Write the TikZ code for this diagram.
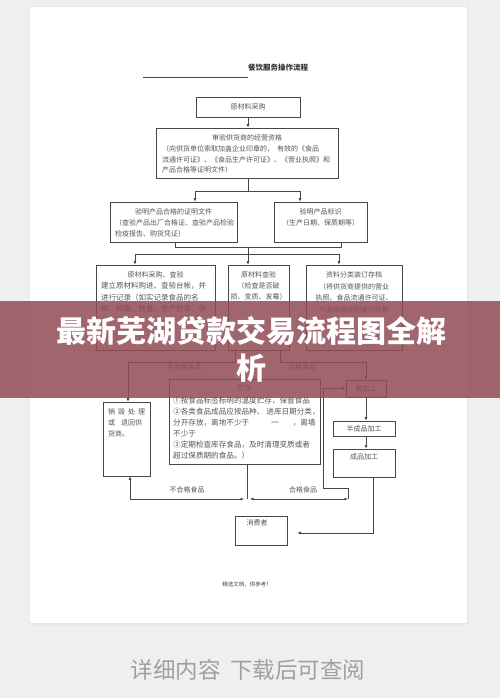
\documentclass[tikz,border=0pt]{standalone}
\usepackage{fontspec}
\newfontfamily\cjk{Noto Sans CJK SC}
\usetikzlibrary{arrows.meta}
\definecolor{ink}{RGB}{70,70,70}
\definecolor{txtc}{RGB}{85,85,85}
\definecolor{bg}{RGB}{239,239,239}
\definecolor{band}{RGB}{145,75,85}
\definecolor{dlc}{RGB}{160,160,160}
\begin{document}
\begin{tikzpicture}[x=1pt,y=-1pt,
  box/.style={draw=ink, line width=0.6pt, inner sep=0pt},
  txt/.style={text=txtc, font=\cjk\fontsize{7}{11}\selectfont, inner sep=0pt},
  ln/.style={draw=ink, line width=0.6pt},
  arr/.style={ln, -{Latex[length=3.5pt,width=2.8pt]}},
  both/.style={ln, {Latex[length=3.5pt,width=2.8pt]}-{Latex[length=3.5pt,width=2.8pt]}}]
\useasboundingbox (0,0) rectangle (500,698);
% page
\fill[bg] (0,0) rectangle (500,698);
\fill[black!9] (28.5,6) rectangle (468.5,625);
\fill[white] (30,7) rectangle (467,623);

% title
\node[txt, text=black!80, font=\cjk\bfseries\fontsize{7.5}{9}\selectfont] (tt) at (278,68) {餐饮服务操作流程};
\coordinate (u1) at (143,77); \coordinate (u2) at (248,77);
\draw[ln] (u1) -- (u2);

% boxes
\node[box, minimum width=104pt, minimum height=20pt] (b1) at (248,107) {};
\node[box, minimum width=182pt, minimum height=50pt] (b2) at (247,153) {};
\node[box, minimum width=127pt, minimum height=40pt] (b3a) at (173.5,222) {};
\node[box, minimum width=93pt, minimum height=40pt] (b3b) at (320.5,222) {};
\node[box, minimum width=119pt, minimum height=85pt] (b4a) at (155.5,307.5) {};
\node[box, minimum width=61pt, minimum height=85pt] (b4b) at (258.5,307.5) {};
\node[box, minimum width=96pt, minimum height=85pt] (b4c) at (354,307.5) {};
\node[box, minimum width=47pt, minimum height=74pt] (xh) at (126.5,439) {};
\node[box, minimum width=151pt, minimum height=85pt] (zc) at (244.5,421.5) {};
\node[box, minimum width=40pt, minimum height=17pt] (cj) at (366,388.5) {};
\node[box, minimum width=62pt, minimum height=15pt] (bc) at (364,428.5) {};
\node[box, minimum width=62pt, minimum height=28pt] (cp) at (364,463) {};
\node[box, minimum width=52pt, minimum height=29pt] (xf) at (261,530.5) {};

% texts
\node[txt] (t1) at (b1) {原材料采购};
\node[txt] (t2a) at (247,138) {审验供货商的经营资格};
\node[txt, anchor=north west, align=left, font=\cjk\fontsize{7}{10.5}\selectfont] (t2b) at (162,145.5)
  {（向供货单位索取加盖企业印章的，\hspace{3pt}有效的《食品\\流通许可证》、《食品生产许可证》、《营业执照》和\\产品合格等证明文件）};
\node[txt] (t3a) at (173.5,212) {验明产品合格的证明文件};
\node[txt, anchor=north west, align=left, font=\cjk\fontsize{7}{10.5}\selectfont] (t3b) at (115,219.5)
  {（查验产品出厂合格证、查验产品检验\\检疫报告、购货凭证）};
\node[txt] (t3c) at (320.5,212) {验明产品标识};
\node[txt] (t3d) at (320.5,223) {（生产日期、保质期等）};
\node[txt] (t4a) at (155.5,275) {原材料采购、查验};
\node[txt, anchor=north west, align=left, font=\cjk\fontsize{7.5}{11.5}\selectfont] (t4b) at (101,282)
  {建立原材料购进、查验台帐，并\\进行记录（如实记录食品的名\\称、规格、数量、生产批号、保};
\node[txt, anchor=north, align=center] (t4c) at (258.5,271.5)
  {原材料查验\\（检查是否破\\损、变质、发霉）};
\node[txt, anchor=north, align=center, font=\cjk\fontsize{7}{11.5}\selectfont] (t4d) at (354,271.5)
  {资料分类装订存档\\（将供货商提供的营业\\执照、食品流通许可证、\\产品合格证明复印件和};
\node[txt, anchor=north west, align=left] (t5) at (108,408.5)
  {销\hspace{3pt}毁\hspace{3pt}处\hspace{3pt}理\\或\hspace{6pt}退回供\\货商。};
\node[txt] (t6a) at (244.5,388) {贮存};
\node[txt, anchor=north west, align=left, font=\cjk\fontsize{7.6}{11}\selectfont] (t6b) at (173,396.5)
  {①按食品标签标明的温度贮存，保管食品\\②各类食品成品应按品种、\hspace{2pt}进库日期分类，\\分开存放，离地不少于\hspace{22pt}一\hspace{14pt}，离墙\\不少于\\③定期检查库存食品，及时清理变质或者\\超过保质期的食品。）};
\node[txt] (t7) at (cj) {粗加工};
\node[txt] (t8) at (bc) {半成品加工};
\node[txt] (t9) at (364,457) {成品加工};
\node[txt] (t10) at (257,523) {消费者};

% connectors top
\draw[arr] (b1.south) -- (b1.south |- b2.north);
\coordinate (s1) at (248,191);
\coordinate (s1l) at (195,191); \coordinate (s1r) at (300,191);
\draw[ln] (b2.south -| s1) -- (s1);
\draw[ln] (s1l) -- (s1r);
\draw[arr] (s1l) -- (s1l |- b3a.north);
\draw[arr] (s1r) -- (s1r |- b3b.north);
\coordinate (m1l) at (175,247); \coordinate (m1r) at (341,247);
\coordinate (m1c) at (248,247); \coordinate (s2) at (248,254);
\draw[ln] (m1l |- b3a.south) -- (m1l) -- (m1r) -- (m1r |- b3b.south);
\draw[ln] (m1c) -- (s2);
\coordinate (s2l) at (135,254); \coordinate (s2r) at (339,254);
\draw[ln] (s2l) -- (s2r);
\draw[arr] (s2l) -- (s2l |- b4a.north);
\draw[arr] (s2) -- (s2 |- b4b.north);
\draw[arr] (s2r) -- (s2r |- b4c.north);

% middle split
\coordinate (d1) at (235,362); \coordinate (d1l) at (128,362);
\draw[arr] (d1 |- b4b.south) -- (d1) -- (d1l) -- (d1l |- xh.north);
\coordinate (d2) at (280,362); \coordinate (d2r) at (366,362);
\draw[arr] (d2 |- b4b.south) -- (d2) -- (d2r) -- (cj.north);
\node[txt] (l1) at (184,367) {不合格食品};
\node[txt] (l2) at (302,367) {合格食品};

% right chain
\draw[arr] (cj.south) -- (cj.south |- bc.north);
\draw[arr] (cj.south |- bc.south) -- (cj.south |- cp.north);

% bottom
\coordinate (j) at (247,499);
\draw[ln] (zc.south -| j) -- (j);
\coordinate (jl) at (244,499); \coordinate (jL) at (130,499);
\draw[both] (jl) -- (jL) -- (jL |- xh.south);
\coordinate (jr) at (250,499); \coordinate (jR) at (348,499);
\draw[both] (jr) -- (jR);
\coordinate (k1) at (348,488); \coordinate (k2) at (323,488); \coordinate (k3) at (323,388);
\draw[arr] (jR) -- (k1) -- (k2) -- (k3) -- (k3 -| cj.west);
\node[txt] (l3) at (187,490) {不合格食品};
\node[txt] (l4) at (303,490) {合格食品};
\coordinate (c1) at (373,533);
\draw[arr, shorten >=10pt] (cp.south -| c1) -- (c1) -- (c1 -| xf.east);

% footer
\node[txt, text=black!75, font=\cjk\fontsize{5.5}{7}\selectfont] (ft) at (247,584) {精选文档，供参考！};

% band
\fill[band, opacity=0.85] (0,301) rectangle (500,398);
\node[inner sep=0pt, text=white, align=center, font=\cjk\bfseries\fontsize{30}{37}\selectfont] (bt) at (251,349) {最新芜湖贷款交易流程图全解\\析};

% bottom text
\node[inner sep=0pt, text=dlc, font=\cjk\fontsize{22.5}{26}\selectfont] (dl) at (248,670) {详细内容\hspace{10pt}下载后可查阅};
\end{tikzpicture}
\end{document}
